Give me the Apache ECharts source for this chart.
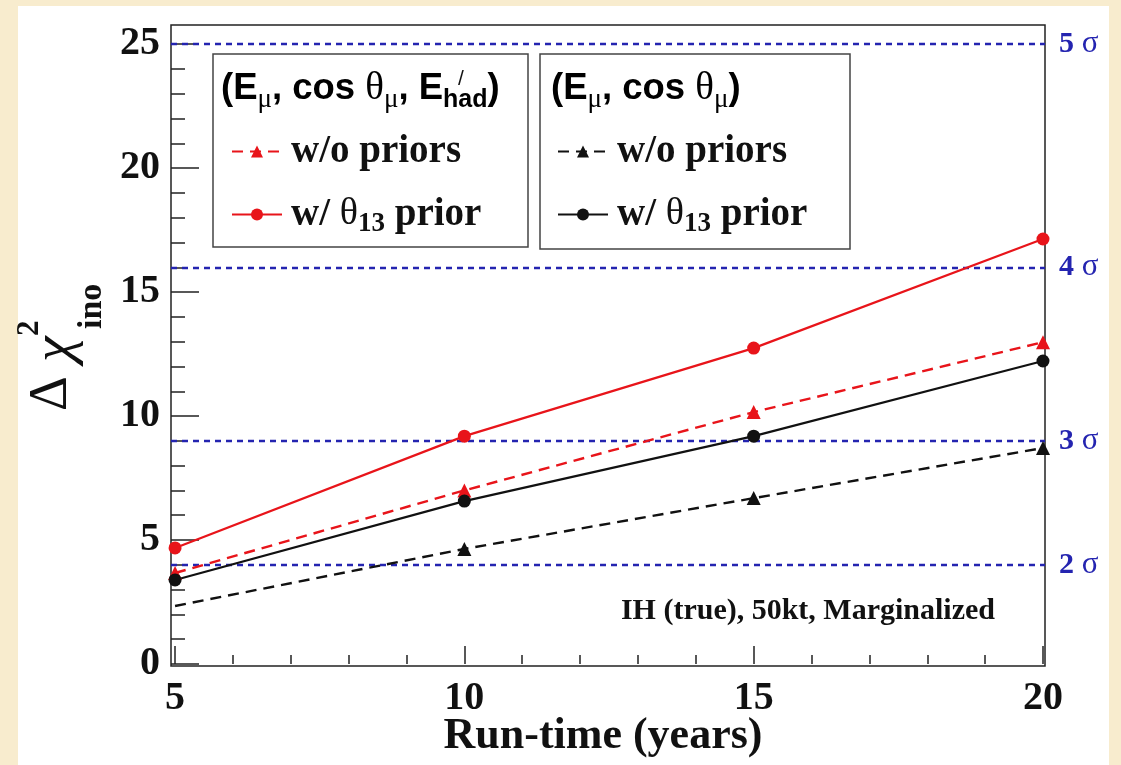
<!DOCTYPE html>
<html>
<head>
<meta charset="utf-8">
<script src="https://cdn.jsdelivr.net/npm/echarts@6/dist/echarts.min.js"></script>
<style>
  html, body { margin: 0; padding: 0; background: #f8ecce; }
  #chart { width: 1121px; height: 765px; }
</style>
</head>
<body>
<div id="chart"></div>
<script>
// Run-time in years and Δχ² sensitivity for the four analysis configurations
const runTime = [5, 10, 15, 20];
const fullPrior   = [4.68, 9.19, 12.74, 17.14]; // (Eμ, cosθμ, E'had), w/ θ13 prior
const fullNoPrior = [3.67, 7.00, 10.16, 12.98]; // (Eμ, cosθμ, E'had), w/o priors
const muPrior     = [3.39, 6.57, 9.19, 12.22];  // (Eμ, cosθμ), w/ θ13 prior
const muNoPrior   = [2.34, 4.64, 6.69, 8.71];   // (Eμ, cosθμ), w/o priors

// Significance reference levels (Δχ² = n²)
const sigmaLevels = [4, 9, 16, 25];
const sigmaNames  = ['2', '3', '4', '5'];

// Tick labels
const xTicks = [5, 10, 15, 20];
const yTicks = [0, 5, 10, 15, 20, 25];

const X_MIN = 4.93, X_MAX = 20.035;
const Y_MIN = -0.08, Y_MAX = 25.77;

const xMinor = [], yMinor = [];
for (let v = 6; v < 20; v++) if (v % 5 !== 0) xMinor.push(v);
for (let v = 1; v < 26; v++) if (v % 5 !== 0) yMinor.push(v);

const RED = '#e8141a', BLACK = '#111111', BLUE = '#2424b0';
const SERIF = 'Liberation Serif', SANS = 'Liberation Sans';

const pts = ys => runTime.map((x, i) => [x, ys[i]]);

const names = {
  fNo: 'w/o priors (Eμ, cosθμ, E′had)',
  fPr: 'w/ θ13 prior (Eμ, cosθμ, E′had)',
  mNo: 'w/o priors (Eμ, cosθμ)',
  mPr: 'w/ θ13 prior (Eμ, cosθμ)'
};
const legendText = {};
legendText[names.fNo] = '{t|w/o priors}';
legendText[names.mNo] = '{t|w/o priors}';
legendText[names.fPr] = '{t|w/ }{g|θ}{sb|13}{t| prior}';
legendText[names.mPr] = '{t|w/ }{g|θ}{sb|13}{t| prior}';

const legendRich = {
  t:  { fontFamily: SERIF, fontWeight: 'bold', fontSize: 39, color: '#111', lineHeight: 48 },
  g:  { fontFamily: SERIF, fontWeight: 'normal', fontSize: 38, color: '#111', lineHeight: 48 },
  sb: { fontFamily: SERIF, fontWeight: 'bold', fontSize: 27, color: '#111', padding: [20, 0, 0, 0], lineHeight: 48 }
};

function legendFor(list, left) {
  return {
    orient: 'vertical',
    left: left, top: 127,
    itemWidth: 50, itemHeight: 15,
    itemGap: 20,
    selectedMode: false,
    data: list,
    formatter: n => legendText[n],
    textStyle: { rich: legendRich, padding: [0, 0, 0, 4] }
  };
}

const frameAxis = {
  axisLine: { show: false },
  splitLine: { show: false }
};

function lineSeries(name, data, color, dashed, symbol) {
  return {
    name: name,
    type: 'line',
    xAxisIndex: 1, yAxisIndex: 1,
    data: data,
    symbol: symbol,
    symbolSize: symbol === 'triangle' ? 14 : 13,
    showSymbol: true,
    lineStyle: { color: color, width: dashed ? 2.4 : 2.2, type: dashed ? [11, 7] : 'solid' },
    itemStyle: { color: color },
    z: 5
  };
}

// black dashed curve has no marker drawn at its first point
const muNoPriorData = pts(muNoPrior).map((p, i) => i === 0 ? { value: p, symbol: 'none' } : p);

const headerRich = {
  b: { fontFamily: SANS, fontWeight: 'bold', fontSize: 36.5, color: '#111', lineHeight: 54 },
  g: { fontFamily: SERIF, fontWeight: 'normal', fontSize: 39, color: '#111', lineHeight: 54 },
  m: { fontFamily: SERIF, fontWeight: 'normal', fontSize: 27, color: '#111', padding: [21, 0, 0, 0], lineHeight: 54 },
  h: { fontFamily: SANS, fontWeight: 'bold', fontSize: 25, color: '#111', padding: [22, 0, 0, 0], lineHeight: 54 }
};

const option = {
  backgroundColor: '#f8ecce',
  animation: false,
  grid: {
    left: 171, right: 76, top: 25, bottom: 99,
    show: true, backgroundColor: '#ffffff',
    borderColor: '#222', borderWidth: 1.5
  },
  xAxis: [
    Object.assign({
      type: 'value', min: X_MIN, max: X_MAX, position: 'bottom',
      axisTick: { inside: true, length: 9, customValues: xMinor, lineStyle: { color: '#222', width: 1.5 } },
      axisLabel: { show: false }
    }, frameAxis),
    Object.assign({
      type: 'value', min: X_MIN, max: X_MAX, position: 'bottom',
      axisTick: { inside: true, length: 18, customValues: xTicks, lineStyle: { color: '#222', width: 1.5 } },
      axisLabel: { customValues: xTicks, margin: 13, fontFamily: SERIF, fontWeight: 'bold', fontSize: 40, color: '#111' }
    }, frameAxis)
  ],
  yAxis: [
    Object.assign({
      type: 'value', min: Y_MIN, max: Y_MAX, position: 'left',
      axisTick: { inside: true, length: 14, customValues: yMinor, lineStyle: { color: '#222', width: 1.5 } },
      axisLabel: { show: false }
    }, frameAxis),
    Object.assign({
      type: 'value', min: Y_MIN, max: Y_MAX, position: 'left',
      axisTick: { inside: true, length: 28, customValues: yTicks, lineStyle: { color: '#222', width: 1.5 } },
      axisLabel: { customValues: yTicks, margin: 11, fontFamily: SERIF, fontWeight: 'bold', fontSize: 40, color: '#111' }
    }, frameAxis)
  ],
  legend: [
    legendFor([names.fNo, names.fPr], 226),
    legendFor([names.mNo, names.mPr], 552)
  ],
  series: [
    Object.assign(lineSeries(names.fNo, pts(fullNoPrior), RED, true, 'triangle'), {
      markLine: {
        silent: true,
        symbol: 'none',
        lineStyle: { color: BLUE, width: 2.4, type: [6, 5] },
        label: {
          position: 'end', distance: 14,
          formatter: p => '{n|' + sigmaNames[p.dataIndex] + '}{s| σ}',
          rich: {
            n: { fontFamily: SERIF, fontWeight: 'bold', fontSize: 30, color: BLUE },
            s: { fontFamily: SERIF, fontWeight: 'normal', fontSize: 31, color: BLUE }
          }
        },
        data: sigmaLevels.map(v => ({ yAxis: v })),
        z: 3
      }
    }),
    lineSeries(names.fPr, pts(fullPrior), RED, false, 'circle'),
    lineSeries(names.mNo, muNoPriorData, BLACK, true, 'triangle'),
    lineSeries(names.mPr, pts(muPrior), BLACK, false, 'circle')
  ],
  graphic: [
    { type: 'rect', z: -100, shape: { x: 18, y: 6, width: 1091, height: 770 }, style: { fill: '#ffffff' } },
    // legend frames
    { type: 'rect', z: 3, shape: { x: 213, y: 54, width: 315, height: 193 }, style: { fill: '#ffffff', stroke: '#444', lineWidth: 1.5 } },
    { type: 'rect', z: 3, shape: { x: 540, y: 54, width: 310, height: 195 }, style: { fill: '#ffffff', stroke: '#444', lineWidth: 1.5 } },
    // legend headers
    { type: 'text', z: 6, x: 221, y: 89, style: {
        text: '{b|(E}{m|μ}{b|, cos }{g|θ}{m|μ}{b|, E}{h|had}{b|)}',
        rich: headerRich, verticalAlign: 'middle' } },
    { type: 'text', z: 6, x: 458, y: 79, style: { text: '/', fontFamily: SANS, fontSize: 21, fill: '#111', verticalAlign: 'middle' } },
    { type: 'text', z: 6, x: 551, y: 89, style: {
        text: '{b|(E}{m|μ}{b|, cos }{g|θ}{m|μ}{b|)}',
        rich: headerRich, verticalAlign: 'middle' } },
    // axis titles
    { type: 'text', z: 6, x: 603, y: 737, style: { text: 'Run-time (years)', fontFamily: SERIF, fontWeight: 'bold', fontSize: 44, fill: '#111', align: 'center', verticalAlign: 'middle' } },
    { type: 'text', z: 6, x: 52, y: 411, rotation: Math.PI / 2, style: { text: 'Δ', fontFamily: SERIF, fontSize: 54, fill: '#111', verticalAlign: 'middle' } },
    { type: 'text', z: 6, x: 56, y: 362, rotation: Math.PI / 2, style: { text: 'χ', fontFamily: SERIF, fontStyle: 'italic', fontSize: 58, fill: '#111', verticalAlign: 'middle' } },
    { type: 'text', z: 6, x: 30, y: 336, rotation: Math.PI / 2, style: { text: '2', fontFamily: SERIF, fontWeight: 'bold', fontSize: 31, fill: '#111', verticalAlign: 'middle' } },
    { type: 'text', z: 6, x: 92, y: 329, rotation: Math.PI / 2, style: { text: 'ino', fontFamily: SERIF, fontWeight: 'bold', fontSize: 34, fill: '#111', verticalAlign: 'middle' } },
    // annotation
    { type: 'text', z: 6, x: 995, y: 611, style: { text: 'IH (true), 50kt, Marginalized', fontFamily: SERIF, fontWeight: 'bold', fontSize: 30, fill: '#111', align: 'right', verticalAlign: 'middle' } }
  ]
};

const chart = echarts.init(document.getElementById('chart'), null, { renderer: 'canvas' });
chart.setOption(option);
</script>
</body>
</html>
